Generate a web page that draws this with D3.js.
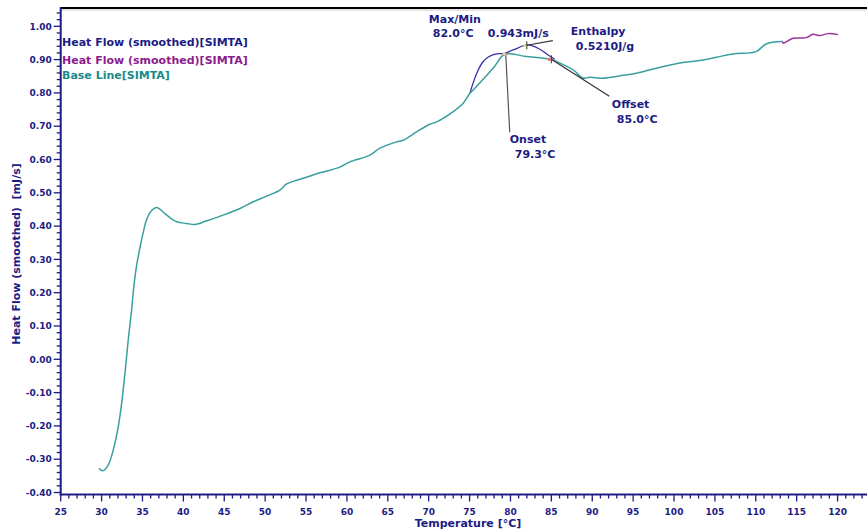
<!DOCTYPE html>
<html><head><meta charset="utf-8">
<script src="https://cdn.jsdelivr.net/npm/d3@7"></script>
<style>
body{margin:0;background:#fff;}
text{font-family:"DejaVu Sans",Verdana,sans-serif;font-weight:bold;}
</style></head>
<body><svg id="c" width="867" height="531"></svg>
<script>
// ---- data (Temperature °C, Heat flow mJ/s) ----
const baseT = [29.68,30.13,30.82,31.43,32.04,32.46,32.86,33.26,33.68,33.96,34.29,34.69,35.10,35.51,36.12,36.74,37.96,39.18,40.40,41.42,42.85,44.88,46.92,48.55,50.18,51.81,52.63,54.66,56.70,59.14,60.37,62.81,64.03,66.08,66.88,68.52,70.15,70.97,73.0,74.22,75.04,75.44,77.88,79.31,81.97,84.82,85.64,87.67,88.89,89.68,91.31,93.35,95.38,97.83,101.09,103.13,105.16,107.19,110.04,111.27,113.3];
const baseV = [-0.327,-0.335,-0.317,-0.272,-0.202,-0.131,-0.041,0.058,0.150,0.222,0.283,0.335,0.382,0.420,0.447,0.456,0.433,0.413,0.408,0.405,0.416,0.433,0.453,0.473,0.490,0.508,0.5265,0.5435,0.560,0.577,0.593,0.613,0.634,0.653,0.658,0.683,0.706,0.713,0.744,0.769,0.799,0.809,0.874,0.916,0.909,0.901,0.894,0.869,0.844,0.847,0.844,0.851,0.859,0.874,0.891,0.897,0.907,0.917,0.924,0.947,0.954];
const peakT = [75.04,75.44,76.0,76.6,77.3,78.3,79.31,80.33,82.16,83.59,84.61,85.42];
const peakV = [0.799,0.830,0.866,0.892,0.908,0.917,0.919,0.929,0.944,0.931,0.914,0.901];
const tailT = [113.3,113.34,114.56,116.20,117.0,117.82,118.84,120.06];
const tailV = [0.954,0.949,0.964,0.966,0.976,0.972,0.978,0.975];
const xMajor = [25,30,35,40,45,50,55,60,65,70,75,80,85,90,95,100,105,110,115,120];
const yMajor = [-0.40,-0.30,-0.20,-0.10,0.00,0.10,0.20,0.30,0.40,0.50,0.60,0.70,0.80,0.90,1.00];
const legendLabels = ["Heat Flow (smoothed)[SIMTA]","Heat Flow (smoothed)[SIMTA]","Base Line[SIMTA]"];
const onset = {T:79.3, V:0.916, label:"Onset", value:"79.3°C"};
const maxPt = {T:82.0, V:0.943, label:"Max/Min", value:"82.0°C", flow:"0.943mJ/s"};
const offset = {T:85.0, V:0.901, label:"Offset", value:"85.0°C"};
const enthalpy = {label:"Enthalpy", value:"0.5210J/g"};

const navy="#1c1c84", teal="#3a9e9e", blue="#3232a6", magenta="#9c329c";
const svg=d3.select("#c");
const x=d3.scaleLinear().domain([25,123.6]).range([60.7,867]);
const y=d3.scaleLinear().domain([-0.4,1.0]).range([492.5,26.3]);
const yTop=8, yBot=494.5, xL=60.7;

// frame top
svg.append("line").attr("x1",xL).attr("x2",867).attr("y1",10).attr("y2",10).attr("stroke","#c8c8c8").attr("stroke-width",1);
svg.append("line").attr("x1",xL).attr("x2",867).attr("y1",yTop).attr("y2",yTop).attr("stroke","#000").attr("stroke-width",2);

// x axis
const xMinor=d3.range(25,124,1);
const gx=svg.append("g");
gx.selectAll("line.mn").data(xMinor).join("line").attr("x1",d=>x(d)).attr("x2",d=>x(d))
  .attr("y1",yBot).attr("y2",d=>xMajor.includes(d)?yBot+7:yBot+4).attr("stroke",navy).attr("stroke-width",1.3);
gx.append("line").attr("x1",xL-1).attr("x2",867).attr("y1",yBot).attr("y2",yBot).attr("stroke",navy).attr("stroke-width",2);
gx.selectAll("text").data(xMajor).join("text").attr("x",d=>x(d)).attr("y",515).attr("text-anchor","middle")
  .attr("font-size",9).attr("fill",navy).text(d=>d);
svg.append("text").attr("x",468).attr("y",527).attr("text-anchor","middle").attr("font-size",11).attr("fill",navy).text("Temperature [°C]");

// y axis
const yMinor=d3.range(-20,53).map(i=>i*0.02);
const gy=svg.append("g");
gy.selectAll("line").data(yMinor).join("line").attr("y1",d=>y(d)).attr("y2",d=>y(d))
  .attr("x1",d=>Math.abs(Math.round(d*50)%5)===0?xL-7:xL-4).attr("x2",xL).attr("stroke",navy).attr("stroke-width",1.3);
gy.append("line").attr("x1",xL).attr("x2",xL).attr("y1",yTop-1).attr("y2",yBot+1).attr("stroke",navy).attr("stroke-width",2);
gy.selectAll("text").data(yMajor).join("text").attr("x",xL-9).attr("y",d=>y(d)+3.2).attr("text-anchor","end")
  .attr("font-size",9).attr("fill",navy).text(d=>d3.format(".2f")(d).replace("−","-"));
svg.append("text").attr("transform","translate(20,254) rotate(-90)").attr("text-anchor","middle")
  .attr("font-size",11).attr("fill",navy).attr("xml:space","preserve").style("white-space","pre").text("Heat Flow (smoothed)  [mJ/s]");

// curves
const line=d3.line().x(d=>x(d[0])).y(d=>y(d[1])).curve(d3.curveCatmullRom.alpha(0.5));
const zip=(a,b)=>a.map((t,i)=>[t,b[i]]);
svg.append("path").attr("d",line(zip(peakT,peakV))).attr("fill","none").attr("stroke",blue).attr("stroke-width",1.3);
svg.append("path").attr("d",line(zip(baseT,baseV))).attr("fill","none").attr("stroke",teal).attr("stroke-width",1.5);
svg.append("path").attr("d",line(zip(tailT,tailV))).attr("fill","none").attr("stroke",magenta).attr("stroke-width",1.5);

// legend
const legCols=[navy,"#8c1c8c","#1a8a8a"], legY=[46,63.5,78.5];
svg.selectAll("text.leg").data(legendLabels).join("text").attr("class","leg").attr("x",62).attr("y",(d,i)=>legY[i])
  .attr("font-size",11).attr("fill",(d,i)=>legCols[i]).text(d=>d);

// annotations
const ox=x(onset.T), oy=y(onset.V), mx=x(maxPt.T), my=y(maxPt.V), fx=x(offset.T), fy=y(offset.V);
svg.append("line").attr("x1",ox+1).attr("y1",oy).attr("x2",ox+5).attr("y2",oy+78).attr("stroke","#555").attr("stroke-width",1.2);
svg.append("line").attr("x1",mx).attr("y1",my).attr("x2",mx+26).attr("y2",my-4.6).attr("stroke","#333").attr("stroke-width",1.2);
svg.append("line").attr("x1",fx).attr("y1",fy).attr("x2",fx+58).attr("y2",fy+37).attr("stroke","#333").attr("stroke-width",1.2);
// markers
svg.append("circle").attr("cx",ox).attr("cy",oy).attr("r",1.8).attr("fill","#f4a0a0");
svg.append("circle").attr("cx",ox-1).attr("cy",oy-0.5).attr("r",1.2).attr("fill","#e8e060");
svg.append("line").attr("x1",mx).attr("x2",mx).attr("y1",my-4).attr("y2",my+4).attr("stroke","#333").attr("stroke-width",1);
svg.append("circle").attr("cx",mx-2).attr("cy",my+0.5).attr("r",1.5).attr("fill","#e8e060");
svg.append("line").attr("x1",fx).attr("x2",fx).attr("y1",fy-4).attr("y2",fy+4).attr("stroke","#333").attr("stroke-width",1);
svg.append("circle").attr("cx",fx-2).attr("cy",fy).attr("r",1.8).attr("fill","#f07070");

const ann=[
 [maxPt.label, mx-98, 23], [maxPt.value, mx-94, 37], [maxPt.flow, mx-39, 37],
 [enthalpy.label, mx+44, 35], [enthalpy.value, mx+49, 49.5],
 [onset.label, ox+5, 143], [onset.value, ox+10, 158],
 [offset.label, fx+60.5, 108], [offset.value, fx+65.5, 122.5]
];
svg.selectAll("text.ann").data(ann).join("text").attr("class","ann").attr("x",d=>d[1]).attr("y",d=>d[2])
  .attr("font-size",11).attr("fill",navy).text(d=>d[0]);
</script></body></html>
